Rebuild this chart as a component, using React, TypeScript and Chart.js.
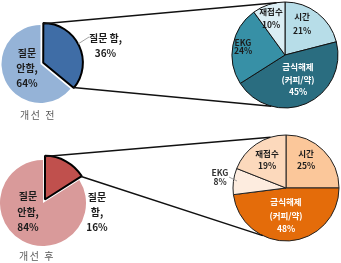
import React, { useEffect, useRef } from "react";
import { Chart, registerables } from "chart.js";
Chart.register(...registerables);

const W = 341;
const H = 263;

// ---- data ----
const askCategories = ["질문 함", "질문 안함"];
const askBefore = [36, 64];
const askAfter = [16, 84];
const reasonCategories = ["시간", "금식해제 (커피/약)", "EKG", "재접수"];
const reasonBefore = [21, 45, 24, 10];
const reasonAfter = [25, 48, 8, 19];
const periodLabels = ["개선 전", "개선 후"];

// ---- layout / style ----
type LabelSpec = {
  dx: number; dy: number; wrap: boolean; comma: boolean; color: string; lh: number;
  leader?: number[];
};
type PieSpec = {
  cx: number; cy: number; r: number;
  categories: string[]; values: number[];
  colors: string[]; borderColors: string[]; borderWidths: number[]; offsets: number[];
  fontSize: number; labels: LabelSpec[];
  caption?: { text: string; dx: number; dy: number };
};

const FONT = '"Noto Sans CJK KR", "Noto Sans", sans-serif';

function pad(cx: number, cy: number) {
  return {
    left: Math.max(0, 2 * cx - W),
    right: Math.max(0, W - 2 * cx),
    top: Math.max(0, 2 * cy - H),
    bottom: Math.max(0, H - 2 * cy),
  };
}

function lineTexts(cat: string, v: number, wrap: boolean, comma: boolean) {
  const words = wrap ? cat.split(" ") : [cat];
  if (comma) words[words.length - 1] += ",";
  return [...words, `${v}%`];
}

function labelPlugin(spec: PieSpec) {
  return {
    id: "sliceLabels",
    afterDatasetsDraw(chart: any) {
      const ctx = chart.ctx as CanvasRenderingContext2D;
      const arcs = chart.getDatasetMeta(0).data as any[];
      if (!arcs.length) return;
      const cx = arcs[0].x;
      const cy = arcs[0].y;
      ctx.save();
      spec.labels.forEach((ls, i) => {
        if (ls.leader) {
          const [x1, y1, x2, y2] = ls.leader;
          ctx.strokeStyle = "#8a8a8a";
          ctx.lineWidth = 0.8;
          ctx.beginPath();
          ctx.moveTo(cx + x1, cy + y1);
          ctx.lineTo(cx + x2, cy + y2);
          ctx.stroke();
        }
        const lines = lineTexts(spec.categories[i], spec.values[i], ls.wrap, ls.comma);
        ctx.font = `bold ${spec.fontSize}px ${FONT}`;
        ctx.fillStyle = ls.color;
        ctx.textAlign = "center";
        ctx.textBaseline = "middle";
        lines.forEach((t, k) => {
          ctx.fillText(t, cx + ls.dx, cy + ls.dy + (k - (lines.length - 1) / 2) * ls.lh);
        });
      });
      if (spec.caption) {
        ctx.font = `10px ${FONT}`;
        ctx.fillStyle = "#5a5a5a";
        ctx.textAlign = "center";
        ctx.textBaseline = "middle";
        (ctx as any).letterSpacing = "1.5px";
        ctx.fillText(spec.caption.text, cx + spec.caption.dx, cy + spec.caption.dy);
      }
      ctx.restore();
    },
  };
}

function arcEdgePoints(el: any) {
  const off = (el.options.offset || 0) / 4;
  const half = (el.startAngle + el.endAngle) / 2;
  const x = el.x + Math.cos(half) * off;
  const y = el.y + Math.sin(half) * off;
  const r = el.outerRadius;
  return {
    start: [x + r * Math.cos(el.startAngle), y + r * Math.sin(el.startAngle)],
    end: [x + r * Math.cos(el.endAngle), y + r * Math.sin(el.endAngle)],
  };
}

function connectorPlugin(source: { chart: any }, topDeg: number, bottomDeg: number) {
  return {
    id: "connector",
    afterDatasetsDraw(chart: any) {
      if (!source.chart) return;
      const src = source.chart.getDatasetMeta(0).data[0];
      const tgt = chart.getDatasetMeta(0).data[0];
      const p = arcEdgePoints(src);
      const R = tgt.outerRadius;
      const toPt = (deg: number) => {
        const a = ((deg - 90) * Math.PI) / 180;
        return [tgt.x + R * Math.cos(a), tgt.y + R * Math.sin(a)];
      };
      const t1 = toPt(topDeg);
      const t2 = toPt(bottomDeg);
      const ctx = chart.ctx as CanvasRenderingContext2D;
      ctx.save();
      ctx.strokeStyle = "#111";
      ctx.lineWidth = 1.5;
      ctx.beginPath();
      ctx.moveTo(p.start[0], p.start[1]);
      ctx.lineTo(t1[0], t1[1]);
      ctx.moveTo(p.end[0], p.end[1]);
      ctx.lineTo(t2[0], t2[1]);
      ctx.stroke();
      ctx.restore();
    },
  };
}

function makeConfig(spec: PieSpec, extra: any[] = []): any {
  return {
    type: "pie",
    data: {
      labels: spec.categories,
      datasets: [
        {
          data: spec.values,
          backgroundColor: spec.colors,
          borderColor: spec.borderColors,
          borderWidth: spec.borderWidths,
          offset: spec.offsets,
          hoverOffset: 0,
        },
      ],
    },
    options: {
      responsive: false,
      animation: false,
      events: [],
      radius: spec.r,
      layout: { padding: pad(spec.cx, spec.cy) },
      plugins: { legend: { display: false }, tooltip: { enabled: false } },
    },
    plugins: [labelPlugin(spec), ...extra],
  };
}

const DARK = "#1c1c1c";

const beforeAsk: PieSpec = {
  cx: 40.5, cy: 64, r: 39,
  categories: askCategories, values: askBefore,
  colors: ["#3f6da6", "#95b3d7"], borderColors: ["#000", "#95b3d7"], borderWidths: [2, 0], offsets: [12, 0],
  fontSize: 10,
  labels: [
    { dx: 65, dy: -18.5, wrap: false, comma: true, color: DARK, lh: 15, leader: [37.5, -20, 48.5, -27] },
    { dx: -13.5, dy: 4, wrap: true, comma: true, color: DARK, lh: 15 },
  ],
  caption: { text: periodLabels[0], dx: -2.5, dy: 51 },
};

const afterAsk: PieSpec = {
  cx: 43, cy: 203, r: 43,
  categories: askCategories, values: askAfter,
  colors: ["#c0504d", "#d99a9a"], borderColors: ["#000", "#d99a9a"], borderWidths: [2, 0], offsets: [16, 0],
  fontSize: 10,
  labels: [
    { dx: 54, dy: 9, wrap: true, comma: true, color: DARK, lh: 15 },
    { dx: -15, dy: 9, wrap: true, comma: true, color: DARK, lh: 15.5 },
  ],
  caption: { text: periodLabels[1], dx: -6, dy: 53 },
};

const beforeReason: PieSpec = {
  cx: 285, cy: 55, r: 53,
  categories: reasonCategories, values: reasonBefore,
  colors: ["#b7dde8", "#2a6d80", "#3790a6", "#dbeef4"],
  borderColors: ["#111", "#111", "#111", "#111"], borderWidths: [1, 1, 1, 1], offsets: [0, 0, 0, 0],
  fontSize: 8.5,
  labels: [
    { dx: 17, dy: -31, wrap: true, comma: false, color: DARK, lh: 14 },
    { dx: 13, dy: 24.5, wrap: true, comma: false, color: "#ffffff", lh: 12.5 },
    { dx: -42, dy: -8, wrap: true, comma: false, color: DARK, lh: 8.5 },
    { dx: -14, dy: -36.5, wrap: true, comma: false, color: DARK, lh: 13 },
  ],
};

const afterReason: PieSpec = {
  cx: 286, cy: 188, r: 53,
  categories: reasonCategories, values: reasonAfter,
  colors: ["#fbc79a", "#e46c0a", "#fdecdf", "#fcd9bc"],
  borderColors: ["#222", "#222", "#222", "#222"], borderWidths: [1, 1, 1, 1], offsets: [0, 0, 0, 0],
  fontSize: 8.5,
  labels: [
    { dx: 20, dy: -28, wrap: true, comma: false, color: DARK, lh: 12 },
    { dx: 0, dy: 27.5, wrap: true, comma: false, color: "#ffffff", lh: 13.5 },
    { dx: -66, dy: -10.5, wrap: true, comma: false, color: "#333", lh: 9, leader: [-57, -11, -49, -7] },
    { dx: -19, dy: -28, wrap: true, comma: false, color: DARK, lh: 11.5 },
  ],
};

export default function App() {
  const r0 = useRef<HTMLCanvasElement>(null);
  const r1 = useRef<HTMLCanvasElement>(null);
  const r2 = useRef<HTMLCanvasElement>(null);
  const r3 = useRef<HTMLCanvasElement>(null);

  useEffect(() => {
    const srcTop: { chart: any } = { chart: null };
    const srcBottom: { chart: any } = { chart: null };
    const c0 = new Chart(r0.current!, makeConfig(beforeAsk));
    srcTop.chart = c0;
    const c1 = new Chart(r1.current!, makeConfig(beforeReason, [connectorPlugin(srcTop, -9, 195)]));
    const c2 = new Chart(r2.current!, makeConfig(afterAsk));
    srcBottom.chart = c2;
    const c3 = new Chart(r3.current!, makeConfig(afterReason, [connectorPlugin(srcBottom, -17, 206)]));
    return () => {
      [c0, c1, c2, c3].forEach((c) => c.destroy());
    };
  }, []);

  const cs: React.CSSProperties = { position: "absolute", left: 0, top: 0 };
  return (
    <div style={{ position: "absolute", left: 0, top: 0, width: W, height: H, background: "#fff" }}>
      <canvas ref={r0} width={W} height={H} style={cs} />
      <canvas ref={r1} width={W} height={H} style={cs} />
      <canvas ref={r2} width={W} height={H} style={cs} />
      <canvas ref={r3} width={W} height={H} style={cs} />
    </div>
  );
}
